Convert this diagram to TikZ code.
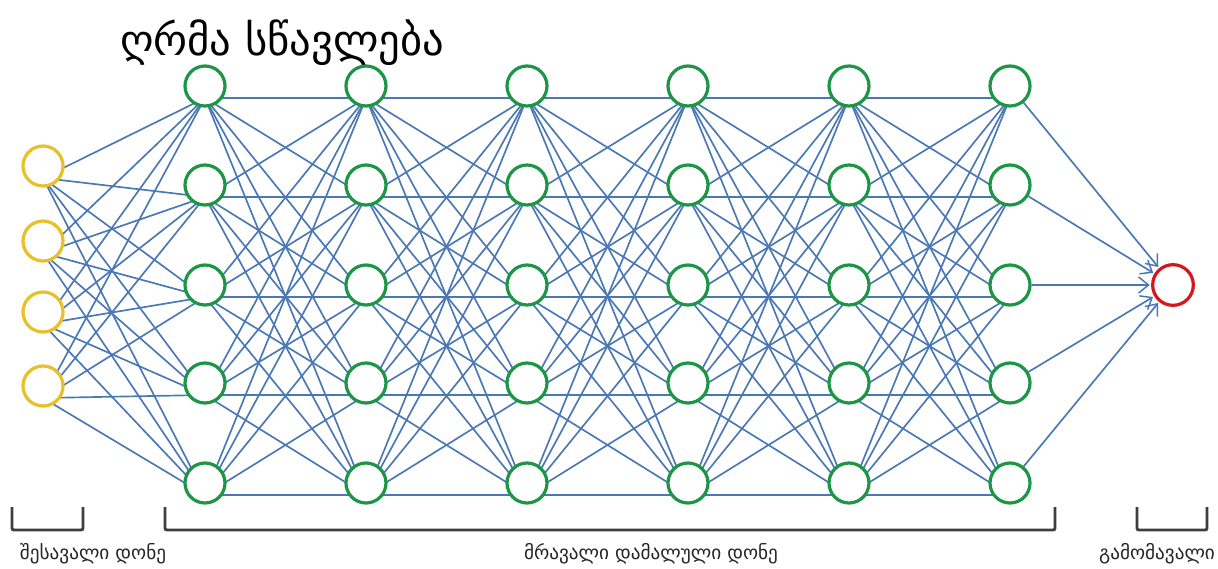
\documentclass[tikz,border=0pt]{standalone}
\usepackage{fontspec}
\setmainfont{DejaVu Sans}
\usetikzlibrary{calc,arrows.meta,backgrounds}
\definecolor{edgeblue}{RGB}{74,120,180}
\definecolor{ngreen}{RGB}{28,150,68}
\definecolor{nyellow}{RGB}{232,192,40}
\definecolor{nred}{RGB}{214,22,26}
\definecolor{brk}{RGB}{62,62,62}
\tikzset{
  neuron/.style={circle,draw,fill=white,line width=2.4pt,minimum size=30pt,inner sep=0pt},
  inneuron/.style={neuron,draw=nyellow},
  hidneuron/.style={neuron,draw=ngreen},
  outneuron/.style={neuron,draw=nred,minimum size=30.5pt},
  edge/.style={draw=edgeblue,line width=1.25pt},
  outedge/.style={edge,-{Straight Barb[length=7.5pt,width=12pt,line width=1.1pt]},shorten >=1pt},
  bracket/.style={draw=brk,line width=2.2pt,rounded corners=1.5pt},
  lbl/.style={font=\fontsize{14.4}{16}\selectfont,inner sep=0pt,text=black!85},
  title/.style={font=\fontsize{32}{35}\selectfont,inner sep=0pt}
}
\begin{document}
\begin{tikzpicture}[x=0.75pt,y=-0.75pt]
\useasboundingbox (0,0) rectangle (1218,568);
% nodes
\foreach \i/\y in {1/166,2/241,3/312,4/386}
  \node[inneuron] (in\i) at (43,\y) {};
\foreach \l/\x in {1/205,2/366,3/527,4/688,5/849,6/1010}
  \foreach \j/\y in {1/86,2/185,3/285,4/383,5/483}
    \node[hidneuron] (h\l-\j) at (\x,\y) {};
\node[outneuron] (out) at (1173,285) {};
% edges
\begin{pgfonlayer}{background}
\fill[white] (0,0) rectangle (1218,568);
\foreach \i in {1,...,4}
  \foreach \j in {1,...,5}
    \draw[edge] ($(in\i)+(0,12)$) -- ($(h1-\j)+(0,12)$);
\foreach \l [evaluate=\l as \n using int(\l+1)] in {1,...,5}
  \foreach \i in {1,...,5}
    \foreach \j in {1,...,5}
      \draw[edge] ($(h\l-\i)+(0,12)$) -- ($(h\n-\j)+(0,12)$);
\end{pgfonlayer}
\foreach \i in {1,...,5}
  \draw[outedge] (h6-\i) -- (out);
% title
\node[title] (ttl) at (282,43) {ღრმა სწავლება};
% brackets
\draw[bracket] (12,507) -- (12,530) -- (83,530) -- (83,507);
\draw[bracket] (165,507) -- (165,530) -- (1055,530) -- (1055,507);
\draw[bracket] (1137,507) -- (1137,530) -- (1207,530) -- (1207,507);
% labels
\node[lbl] (lin) at (93,554) {შესავალი დონე};
\node[lbl] (lhid) at (651,554) {მრავალი დამალული დონე};
\node[lbl] (lout) at (1157,554) {გამომავალი};
\end{tikzpicture}
\end{document}
